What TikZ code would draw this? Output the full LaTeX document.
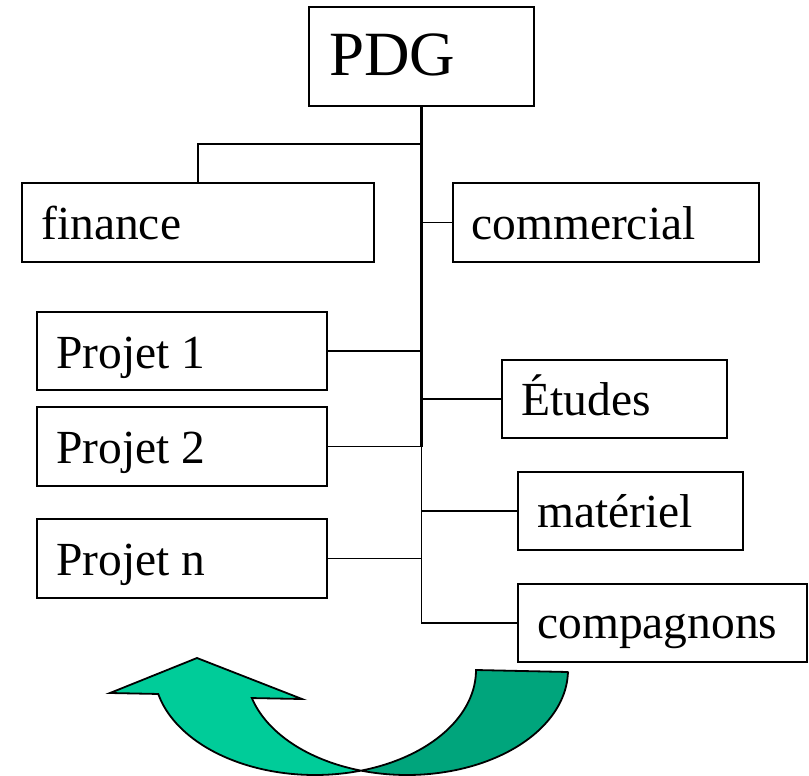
\documentclass[tikz,border=0pt]{standalone}
\usepackage{fontspec}
\setmainfont{Liberation Serif}
\definecolor{ribbonfront}{RGB}{0,204,153}
\definecolor{ribbonback}{RGB}{0,165,124}
\begin{document}
\begin{tikzpicture}[x=1pt, y=-1pt,
  box/.style={draw, line width=1.8pt, inner sep=0pt, minimum width=#1},
  lbl/.style={anchor=base west, inner sep=0pt, font=\fontsize{47.5}{57}\selectfont},
  link/.style={line width=1.9pt},
  trunk/.style={line width=2.8pt},
  ribbon/.style={draw=black, line width=1.8pt, line join=miter}]
\useasboundingbox (0,0) rectangle (809,776);

% boxes (centre, width, height)
\node[box=225pt, minimum height=99pt] (pdg) at (421.5,56.5) {};
\node[box=352pt, minimum height=79pt] (fin) at (198,222.5) {};
\node[box=306pt, minimum height=79pt] (com) at (606,222.5) {};
\node[box=290pt, minimum height=78pt] (p1)  at (182,351) {};
\node[box=290pt, minimum height=79pt] (p2)  at (182,446.5) {};
\node[box=290pt, minimum height=79pt] (pn)  at (182,558.5) {};
\node[box=225pt, minimum height=78pt] (etu) at (614.5,399) {};
\node[box=225pt, minimum height=78pt] (mat) at (630.5,511) {};
\node[box=289pt, minimum height=78pt] (cmp) at (662.5,623) {};

% labels
\node[lbl, font=\fontsize{63}{75}\selectfont] (pdgt) at ([xshift=21pt, yshift=-19.5pt]pdg.west) {PDG};
\node[lbl] (fint) at ([xshift=20pt, yshift=-16.5pt]fin.west) {finance};
\node[lbl] (comt) at ([xshift=19pt, yshift=-16.5pt]com.west) {commercial};
\node[lbl] (p1t)  at ([xshift=20pt, yshift=-17pt]p1.west) {Projet 1};
\node[lbl] (p2t)  at ([xshift=20pt, yshift=-16.5pt]p2.west) {Projet 2};
\node[lbl] (pnt)  at ([xshift=20pt, yshift=-16.5pt]pn.west) {Projet n};
\node[lbl] (etut) at ([xshift=20pt, yshift=-16pt]etu.west) {Études};
\node[lbl] (matt) at ([xshift=20pt, yshift=-16pt]mat.west) {matériel};
\node[lbl] (cmpt) at ([xshift=20pt, yshift=-15pt]cmp.west) {compagnons};

% connectors
\coordinate (jf) at (422,144);
\draw[trunk] (pdg.south) -- (p2.east -| pdg.south);
\draw[link] (p2.east -| pdg.south) |- (cmp.west);
\draw[link] (fin.north) |- (jf);
\draw[link] (com.west -| pdg.south) -- (com.west);
\draw[link] (p1.east) -- (p1.east -| pdg.south);
\draw[link] (p2.east) -- (p2.east -| pdg.south);
\draw[link] (pn.east) -- (pn.east -| pdg.south);
\draw[link] (etu.west -| pdg.south) -- (etu.west);
\draw[link] (mat.west -| pdg.south) -- (mat.west);

% curved ribbon arrow: back face first, then the front face with its head
\filldraw[ribbon, fill=ribbonback]
  (476,670) -- (568,672)
  -- plot[domain=1:106.6, samples=60] ({407+161*cos(\x)}, {670+105*sin(\x)})
  -- plot[domain=73.4:0, samples=60] ({315+161*cos(\x)}, {670+105*sin(\x)})
  -- cycle;
\filldraw[ribbon, fill=ribbonfront]
  plot[domain=106.6:164.5, samples=60] ({407+161*cos(\x)}, {670+105*sin(\x)})
  -- (302,699) -- (197,658) -- (110,693)
  -- plot[domain=166.8:73.4, samples=80] ({315+161*cos(\x)}, {670+105*sin(\x)})
  -- cycle;
\end{tikzpicture}
\end{document}
